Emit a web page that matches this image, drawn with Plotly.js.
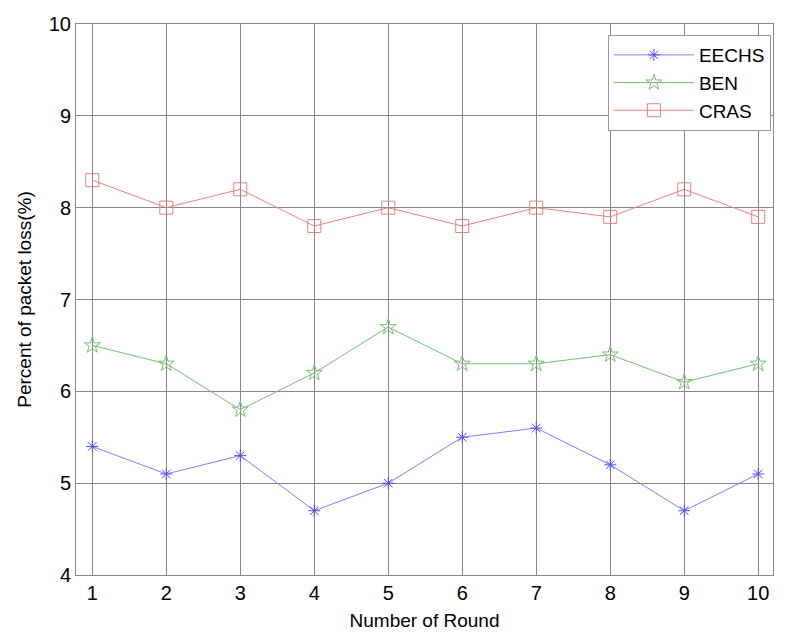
<!DOCTYPE html>
<html>
<head>
<meta charset="utf-8">
<script src="https://cdn.plot.ly/plotly-3.0.1.min.js"></script>
<style>html,body{margin:0;padding:0;background:#fff;}#chart{width:797px;height:641px;}</style>
</head>
<body>
<div id="chart"></div>
<script>
const rounds = [1, 2, 3, 4, 5, 6, 7, 8, 9, 10];
const eechs = [5.4, 5.1, 5.3, 4.7, 5.0, 5.5, 5.6, 5.2, 4.7, 5.1];
const ben = [6.5, 6.3, 5.8, 6.2, 6.7, 6.3, 6.3, 6.4, 6.1, 6.3];
const cras = [8.3, 8.0, 8.2, 7.8, 8.0, 7.8, 8.0, 7.9, 8.2, 7.9];
const xTicks = [1, 2, 3, 4, 5, 6, 7, 8, 9, 10];
const yTicks = [4, 5, 6, 7, 8, 9, 10];

const traces = [
  {x: rounds, y: eechs, name: 'EECHS', mode: 'lines+markers', type: 'scatter',
   line: {color: '#8080ff', width: 1},
   marker: {symbol: 'asterisk-open', size: 10, color: '#4f4fff', line: {color: '#4f4fff', width: 1}}},
  {x: rounds, y: ben, name: 'BEN', mode: 'lines+markers', type: 'scatter',
   line: {color: '#74c074', width: 1},
   marker: {symbol: 'star-open', size: 12, color: '#74c074', line: {color: '#74c074', width: 1}}},
  {x: rounds, y: cras, name: 'CRAS', mode: 'lines+markers', type: 'scatter',
   line: {color: '#f08080', width: 1},
   marker: {symbol: 'square-open', size: 13, color: '#f08080', line: {color: '#f08080', width: 1}}}
];

const layout = {
  width: 797, height: 641,
  margin: {l: 76, r: 24, t: 24, b: 66},
  paper_bgcolor: '#fff', plot_bgcolor: '#fff',
  font: {family: 'Arial, Liberation Sans, sans-serif', color: '#000', size: 19},
  showlegend: true,
  legend: {x: 0.997, y: 0.98, xanchor: 'right', yanchor: 'top',
    bgcolor: '#fff', bordercolor: '#999', borderwidth: 1,
    font: {size: 19}, itemwidth: 80, tracegroupgap: 7},
  xaxis: {
    range: [0.78, 10.2], tickvals: xTicks, ticktext: xTicks.map(String),
    showgrid: true, gridcolor: '#888', gridwidth: 1, zeroline: false,
    showline: true, linecolor: '#888', linewidth: 1, mirror: true,
    ticks: '', tickfont: {size: 20},
    title: {text: 'Number of Round', font: {size: 19}, standoff: 10}
  },
  yaxis: {
    range: [4, 10], tickvals: yTicks, ticktext: yTicks.map(String),
    showgrid: true, gridcolor: '#888', gridwidth: 1, zeroline: false,
    showline: true, linecolor: '#888', linewidth: 1, mirror: true,
    ticks: '', tickfont: {size: 20},
    title: {text: 'Percent of packet loss(%)', font: {size: 19}, standoff: 12}
  }
};

Plotly.newPlot('chart', traces, layout, {displayModeBar: false, staticPlot: true});
</script>
</body>
</html>
